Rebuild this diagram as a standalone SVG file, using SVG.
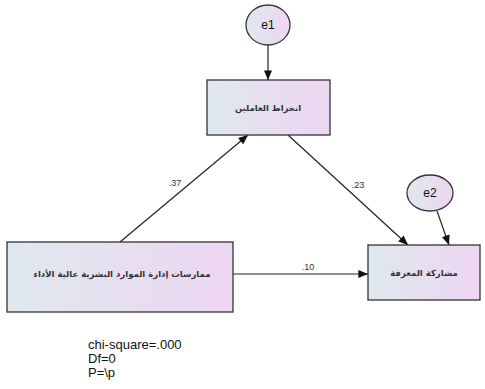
<svg xmlns="http://www.w3.org/2000/svg" width="485" height="389" viewBox="0 0 485 389">
<defs>
<linearGradient id="g" x1="0" y1="0" x2="1" y2="0">
<stop offset="0" stop-color="#dfe8ee"/>
<stop offset="1" stop-color="#eed6f2"/>
</linearGradient>
<marker id="ah" viewBox="0 0 12 10" refX="12" refY="5" markerWidth="12" markerHeight="8" markerUnits="userSpaceOnUse" orient="auto">
<path d="M0,0 L12,5 L0,10 z" fill="#111"/>
</marker>
</defs>
<style>
.n{fill:url(#g);stroke:#333;stroke-width:1.3}
.ar{font-family:"DejaVu Sans",sans-serif;font-size:8.5px;font-weight:bold;fill:#333;text-anchor:middle}
.lb{font-family:"Liberation Sans",Arial,sans-serif;font-size:9px;fill:#333;text-anchor:middle}
.e{font-family:"Liberation Sans",Arial,sans-serif;font-size:12px;fill:#111;text-anchor:middle}
.c line{stroke:#222;stroke-width:1.2;marker-end:url(#ah)}
.st{font-family:"Liberation Sans",Arial,sans-serif;font-size:13px;fill:#111}
</style>
<g class="c" id="connectors">
<line x1="268" y1="45" x2="268" y2="80"/>
<line x1="437" y1="211" x2="449" y2="245"/>
<line x1="288" y1="135" x2="408" y2="245"/>
<line x1="120" y1="242" x2="248" y2="135"/>
<line x1="233" y1="274" x2="368" y2="274"/>
</g>
<g id="labels">
<text class="lb" x="175" y="186">.37</text>
<text class="lb" x="358" y="188">.23</text>
<text class="lb" x="308" y="270">.10</text>
</g>
<g id="e1"><ellipse class="n" cx="268" cy="25" rx="22" ry="20"/><text class="e" x="268" y="29">e1</text></g>
<g id="e2"><ellipse class="n" cx="430" cy="193" rx="23" ry="18"/><text class="e" x="430" y="197">e2</text></g>
<g id="n1"><rect class="n" x="207" y="80" width="123" height="55"/><text class="ar" x="268" y="111">انخراط العاملين</text></g>
<g id="n2"><rect class="n" x="7" y="242" width="226" height="70"/><text class="ar" x="122" y="277">ممارسات إدارة الموارد البشرية عالية الأداء</text></g>
<g id="n3"><rect class="n" x="368" y="245" width="112" height="55"/><text class="ar" x="424" y="276">مشاركة المعرفة</text></g>
<g id="stats">
<text class="st" x="88" y="349">chi-square=.000</text>
<text class="st" x="88" y="363">Df=0</text>
<text class="st" x="88" y="377">P=\p</text>
</g>
</svg>
